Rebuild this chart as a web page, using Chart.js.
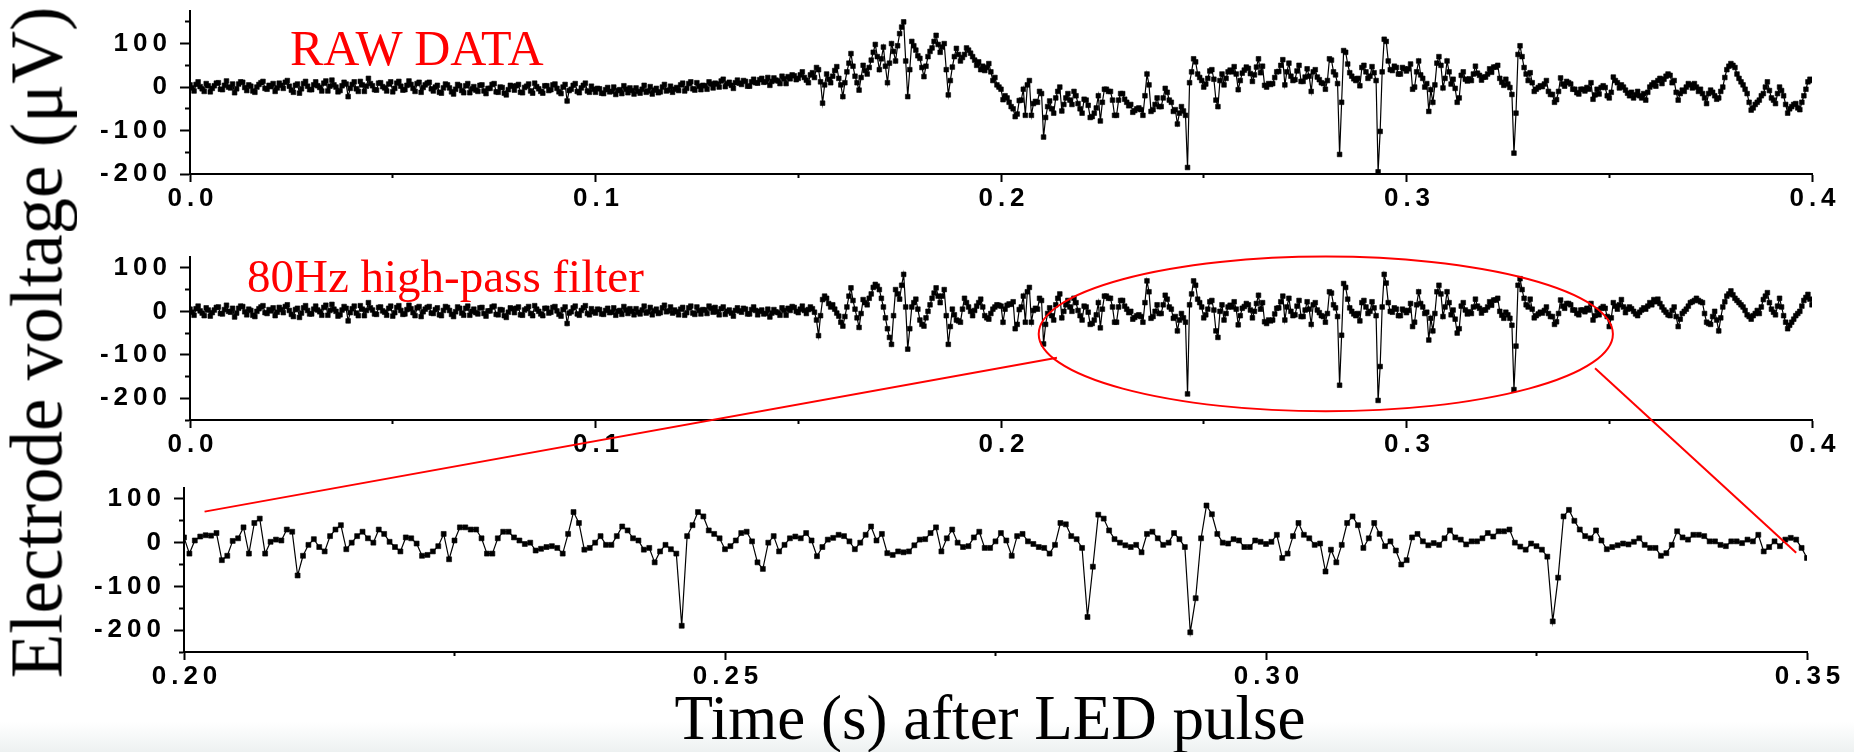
<!DOCTYPE html>
<html>
<head>
<meta charset="utf-8">
<script src="https://cdn.jsdelivr.net/npm/chart.js@4.4.1/dist/chart.umd.min.js"></script>
<style>
  html, body { margin: 0; padding: 0; background: #fff; }
  #page { position: relative; width: 1854px; height: 752px; overflow: hidden; background: #fff; }
  #page canvas { position: absolute; left: 0; }
  #fade { position: absolute; left: 0; top: 722px; width: 1854px; height: 30px;
          background: linear-gradient(to bottom, #ffffff, #edf1f1); }
  .note { position: absolute; font-family: "Liberation Serif", "Times New Roman", serif;
          color: #ff0000; white-space: nowrap; }
  .title { position: absolute; font-family: "Liberation Serif", "Times New Roman", serif;
           color: #000; white-space: nowrap; text-align: center; }
</style>
</head>
<body>
<div id="page">
  <div id="fade"></div>
  <canvas id="rawChart" width="1854" height="215" style="top:0px"></canvas>
  <canvas id="hpChart" width="1854" height="220" style="top:240px"></canvas>
  <canvas id="zoomChart" width="1854" height="230" style="top:470px"></canvas>
  <canvas id="overlay" width="1854" height="752" style="top:0px"></canvas>
  <div class="note" style="left:290px; top:23px; font-size:50px; line-height:50px">RAW DATA</div>
  <div class="note" style="left:247px; top:253px; font-size:47px; line-height:47px">80Hz high-pass filter</div>
  <div class="title" style="left:490px; top:687px; width:1000px; font-size:63px; line-height:63px">Time (s) after LED pulse</div>
  <div class="title" style="left:-363px; top:306px; width:800px; height:73px; font-size:73px; line-height:73px; transform:rotate(-90deg)">Electrode voltage (μV)</div>
</div>
<script>
// all traces are sampled every 0.5 ms (µV)
const DT = 0.0005;

// raw electrode trace, 0.000 s to 0.400 s
const RAW_T0 = 0;
const rawValues = [
  // 0.000 - 0.100 s
  5, -2, -9, 6, 12, 1, -4, -10, 8, 3, -11, -3, 3, 9, 10, -5, -6, 4, 14, 0,
  -2, 7, -13, -4, 7, 12, 11, -1, -8, 5, 2, -9, -12, 0, 6, 10, 13, -3, -5, 4,
  1, 8, -10, -2, 9, 4, -3, 11, 15, 2, -7, -12, 4, 7, -14, -4, 8, 13, 2, -6,
  -6, 5, 12, 3, -1, -9, 9, 14, -9, 2, 16, 5, 0, -11, -8, 3, 11, 7, -22, -3,
  6, 12, -4, -10, 13, 5, -10, 2, 20, 8, 3, -6, -7, 9, 10, 1, -2, -9, 7, 12,
  -11, -3, 9, 13, 2, -7, -6, 4, 14, 6, -3, -10, 8, 11, -12, -1, 5, 9, 11, -4,
  -9, 0, 4, -12, -14, -2, 7, 5, -2, -11, -16, -5, 6, 3, -8, -13, 3, 8, -13, -4,
  1, -7, -10, 4, 5, -9, -15, -3, -3, 6, 8, -11, -12, 0, -1, -14, -18, -6, 4, 2,
  -7, 3, 6, -12, -13, -1, 2, 7, -9, -14, 9, 1, -4, -10, -14, 3, 3, -8, -6, 5,
  7, -3, -11, -15, 0, 6, -32, -8, -5, 4, 8, -10, -13, -2, 4, 9, -9, -12, 2, -5,
  // 0.100 - 0.200 s
  -12, -3, -4, -14, -15, -6, -1, -11, -10, 0, -17, -8, -6, -15, 3, -5, -13, -2, -8, -16,
  -2, -10, -14, -5, 4, -12, -9, 1, -16, -7, -3, -13, -11, 0, 6, -9, -7, 2, -12, -5,
  -1, -8, 5, 9, -9, -3, 8, 12, -4, -7, 10, 2, -6, 4, 3, -5, 12, 7, -2, 9,
  7, 0, 14, 18, 1, 8, 11, 4, -3, 10, 16, 9, 6, 15, 13, 2, 2, 12, 18, 10,
  9, 17, 20, 11, 12, 22, 4, 13, 21, 16, 14, 8, 25, 19, 8, 24, 19, 28, 26, 17,
  20, 28, 35, 22, 16, 10, 28, 33, 22, 45, 40, 12, -37, 5, 30, 18, 10, 25, 38, 47,
  20, 5, -22, 10, 35, 55, 77, 48, 25, 10, -7, 22, 50, 38, 30, 45, 62, 80, 98, 70,
  40, 65, 92, 48, 10, 55, 100, 82, 60, 95, 123, 138, 150, 60, -22, 40, 105, 95, 85, 72,
  66, 45, 24, 48, 70, 82, 90, 105, 119, 98, 80, 92, 100, 40, -18, 15, 46, 70, 89, 75,
  60, 68, 75, 90, 85, 78, 70, 62, 50, 58, 40, 48, 38, 45, 54, 35, 15, 22, 5, 0,
  // 0.200 - 0.350 s
  -5, -29, -20, -25, -35, -45, -50, -68, -62, -31,
  -30, -5, -65, 5, 15, -65, -38, -33, -35, -10,
  -15, -115, -70, -45, -32, -50, -60, -25, -10, 0,
  -55, -40, -25, -15, -30, -40, -10, -20, -38, -50,
  -60, -28, -30, -42, -70, -68, -60, -48, -20, -78,
  -35, -5, -5, -10, -10, -30, -65, -65, -30, -15,
  -15, -28, -35, -43, -40, -58, -54, -50, -48, -52,
  -65, -20, 30, 5, -56, -52, -40, -25, -45, -45,
  -25, -3, -12, -30, -35, -56, -52, -85, -60, -45,
  -55, -65, -185, 10, 35, 65, 58, 30, 22, 15,
  0, 7, 20, 37, 40, 18, -30, -45, 15, 30,
  5, 20, 35, 39, 35, 47, 30, -6, 15, 32,
  39, 46, 43, 31, 13, 28, 46, 65, 33, 48,
  4, 0, 8, 6, 8, 22, 35, 36, 50, 63,
  5, 35, 55, 25, 15, 17, 37, 50, 13, 13,
  23, 42, 25, -10, 35, 40, 23, 17, 10, 8,
  -5, 15, 65, 62, 35, 28, 8, -155, -35, 84,
  80, 53, 33, 25, 19, 15, 20, 3, 45, 50,
  35, 20, 25, 47, 33, 15, -195, -102, 35, 110,
  105, 60, 40, 38, 48, 45, 30, 30, 45, 42,
  37, 42, 53, -5, 0, 35, 60, 28, 20, 0,
  8, -56, -6, -35, 5, 55, 70, 50, -2, 20,
  60, 35, 7, 18, -3, -35, -25, 27, 35, 18,
  14, 19, 15, 30, 48, 32, 27, 16, 23, 23,
  30, 42, 34, 46, 46, 50, 20, 11, 4, 18,
  7, -1, -17, -152, -60, 75, 95, 70, 45, 30,
  15, 33, 10, -10, -5, -1, 3, 1, 7, 15,
  -10, -17, -17, -35, -29, -10, 21, 7, 2, 13,
  10, 7, -5, -5, -13, -16, -5, -5, -9, -1,
  -5, 10, -28, -18, -5, -16, -1, 3, -1, -20,
  -25,
  // 0.3505 - 0.400 s
  -12, 23, 15, 10, -2, 5, 0, -7, -14, -20, -12, -25, -18, -10, -20, -25, -15, -30, -12, 0,
  5, 10, 2, 15, 20, 8, 18, 25, 30, 27, 10, 15, -12, -30, -15, -7, -10, 0, 8, 5,
  -2, 8, 0, -10, -5, -15, -25, -38, -15, -7, -12, -20, -28, -25, -10, 0, 22, 40, 48, 54,
  50, 45, 30, 20, 12, 5, -5, -15, -35, -53, -48, -40, -35, -30, -20, -15, 0, 12, -8, -25,
  -30, -38, -15, 0, -8, -20, -40, -60, -50, -45, -40, -38, -48, -52, -35, -20, -5, 12, 18, 15
];

// 80 Hz high-pass trace, 0.000 - 0.1995 s
const HP_EARLY_T0 = 0;
const hpEarlyValues = [
  5, -2, -9, 6, 12, 1, -4, -10, 8, 3, -11, -3, 3, 9, 10, -5, -6, 4, 14, 0,
  -2, 7, -13, -4, 7, 12, 11, -1, -8, 5, 2, -9, -12, 0, 6, 10, 13, -3, -5, 4,
  1, 8, -10, -2, 9, 4, -3, 11, 15, 2, -7, -12, 4, 7, -14, -4, 8, 13, 2, -6,
  -6, 5, 12, 3, -1, -9, 9, 14, -9, 2, 16, 5, 0, -11, -8, 3, 11, 7, -22, -3,
  6, 12, -4, -10, 13, 5, -10, 2, 20, 8, 3, -6, -7, 9, 10, 1, -2, -9, 7, 12,
  -11, -3, 9, 13, 2, -7, -6, 4, 14, 6, -3, -10, 8, 11, -12, -1, 5, 9, 11, -4,
  -5, 4, 8, -8, -10, 2, 11, 9, 2, -7, -12, -1, 10, 7, -4, -9, 7, 12, -9, 0,
  5, -3, -6, 8, 9, -5, -11, 1, 1, 10, 12, -7, -8, 4, 3, -10, -14, -2, 8, 6,
  -3, 7, 10, -8, -9, 3, 6, 11, -5, -10, 13, 5, 0, -6, -10, 7, 7, -4, -2, 9,
  11, 1, -7, -11, 4, 10, -28, -4, -1, 8, 12, -6, -9, 2, 8, 13, -5, -8, 6, -1,
  -4, 5, 4, -6, -7, 2, 7, -3, -2, 8, -9, 0, 2, -7, 11, 3, -5, 6, 0, -8,
  6, -2, -6, 3, 12, -4, -1, 9, -8, 1, 5, -5, -3, 8, 14, -1, 1, 10, -4, 3,
  -1, -8, 5, 9, -9, -3, 8, 12, -4, -7, 10, 2, -6, 4, 3, -5, 12, 7, -2, 9,
  -1, -8, 6, 10, -7, 0, 3, -4, -11, 2, 8, 1, -2, 7, 5, -6, -6, 4, 10, 2,
  -8, 0, 3, -6, -5, 5, -13, -4, 4, -1, -3, -9, 8, 2, -9, 7, 2, 11, 9, 0,
  -3, 5, 12, 2, -5, 4, 10, 6, -2, -20, -56, -10, 27, 35, 30, 18, 10, 15, 5, -4,
  -11, -25, -34, -12, 10, 35, 54, 25, 5, -15, -37, -5, 27, 20, 15, 30, 40, 55, 62, 58,
  50, 30, 10, -15, -40, -60, -76, -10, 50, 40, 28, 60, 85, 10, -87, -40, 10, 20, 28, 5,
  -20, -30, -34, -15, 0, 15, 30, 42, 54, 35, 20, 35, 50, -10, -76, -35, 5, -8, -20, -22,
  -25, 5, 30, 20, 10, 0, -10, 2, 12, 20, 28, 10, -10, -15, -18, -5, 5, 10, 15, 14
];

// high-pass trace inside the zoomed window, 0.200 - 0.350 s
const HP_ZOOM_T0 = 0.2;
const hpZoomValues = [
  12, -25, 5, 14, 17, 16, 22, -40, -30, 4,
  10, 35, -25, 45, 55, -25, 2, 7, 5, 30,
  25, -75, -30, -5, 8, -10, -20, 15, 30, 40,
  -15, 0, 15, 25, 10, 0, 30, 20, 2, -10,
  -20, 12, 10, -2, -30, -28, -20, -8, 20, -38,
  5, 35, 35, 30, 30, 10, -25, -25, 10, 25,
  25, 12, 5, -3, 0, -18, -14, -10, -8, -12,
  -25, 20, 70, 45, -16, -12, 0, 15, -5, -5,
  15, 37, 28, 10, 5, -16, -12, -45, -20, -5,
  -15, -25, -190, 15, 40, 70, 60, 28, 20, 10,
  -15, -8, 5, 22, 25, 3, -45, -60, 0, 15,
  -20, -5, 10, 14, 10, 22, 5, -31, -10, 7,
  11, 18, 15, 3, -15, 0, 18, 37, 5, 20,
  -24, -28, -20, -22, -20, -6, 7, 8, 22, 35,
  -20, 10, 30, 0, -10, -8, 12, 25, -12, -12,
  3, 22, 5, -30, 15, 20, 3, -3, -10, -12,
  -25, -5, 45, 42, 15, 8, -12, -170, -55, 64,
  55, 28, 8, 0, -6, -10, -5, -22, 20, 25,
  10, -5, 0, 22, 8, -10, -205, -127, 10, 85,
  65, 20, 0, -2, 8, 5, -10, -10, 5, 2,
  -3, 2, 18, -35, -25, 15, 45, 18, 10, -5,
  -2, -66, -16, -45, -5, 45, 60, 40, -12, 10,
  45, 20, -8, 3, -18, -50, -40, 12, 20, 3,
  -6, -1, -5, 10, 28, 12, 7, -4, 3, 3,
  10, 22, 14, 26, 26, 30, 0, -9, -16, -2,
  -8, -16, -32, -180, -80, 60, 75, 50, 30, 15,
  10, 28, 5, -15, -10, -6, -2, -4, 2, 10,
  -5, -12, -12, -30, -24, -5, 26, 12, 7, 18,
  18, 15, 3, 3, -5, -8, 3, 3, -1, 7,
  3, 18, -20, -10, 3, -8, 7, 11, 7, -12,
  -35
];

// high-pass trace after the window, 0.3505 - 0.400 s
const HP_LATE_T0 = 0.3505;
const hpLateValues = [
  -15, 20, 12, 5, 15, 27, 10, -3, 5, 10, 6, 0, -6, -10, -2, 3, 8, 5, 12, 20,
  15, 27, 22, 28, 18, 10, 3, -2, -8, -10, 2, 10, -12, -35, -18, -5, 0, 5, 12, 20,
  22, 25, 30, 25, 22, 20, -5, -25, -28, -30, -12, 0, -20, -45, -15, 10, 22, 35, 40, 47,
  38, 30, 25, 20, 15, 10, 2, -8, -12, -18, -10, -5, 2, -5, 10, 27, 35, 43, 20, 5,
  -2, -8, 12, 30, 10, -10, -25, -40, -32, -25, -18, -10, -5, 0, 12, 25, 32, 39, 28, 15
];

// axis ticks
const fullTimeTicks = [0, 0.1, 0.2, 0.3, 0.4];
const fullTimeLabels = ["0.0", "0.1", "0.2", "0.3", "0.4"];
const fullTimeMinor = [0.05, 0.15, 0.25, 0.35];
const zoomTimeTicks = [0.2, 0.25, 0.3, 0.35];
const zoomTimeLabels = ["0.20", "0.25", "0.30", "0.35"];
const zoomTimeMinor = [0.225, 0.275, 0.325];
const voltTicks = [-200, -100, 0, 100];
const voltMinor = [-250, -150, -50, 50, 150];

// zoom marker (ellipse on the filtered panel) and its two leader lines, in data units
const zoomEllipse = { t: 0.2801, v: -52, halfT: 0.0708, halfV: 178 };
const leaderLines = [
  { from: [0.2138, -107], to: [0.2019, 71] },
  { from: [0.3465, -131], to: [0.349, -23] }
];

function toPoints(t0, values) {
  return values.map((v, i) => ({ x: +(t0 + i * DT).toFixed(4), y: v }));
}

const tickFont = { family: '"Liberation Sans", Arial, sans-serif', size: 26, weight: "bold" };

function zeroPad(s) {
  s.paddingLeft = 0; s.paddingRight = 0; s.paddingTop = 0; s.paddingBottom = 0;
}

function fixTicks(values, lo, hi) {
  return (s) => {
    s.ticks = values.filter((v) => v >= lo - 1e-9 && v <= hi + 1e-9).map((v) => ({ value: v }));
  };
}

const letterSpacing = {
  id: "letterSpacing",
  beforeDraw(chart) { chart.ctx.letterSpacing = "5px"; }
};

function makeChart(id, o) {
  const axisLine = { color: "#000", width: 2 };
  return new Chart(document.getElementById(id), {
    type: "line",
    data: {
      datasets: [{
        data: o.points,
        borderColor: "#000",
        borderWidth: 1.2,
        pointStyle: "rect",
        pointRadius: o.markerSize,
        pointBackgroundColor: "#000",
        pointBorderColor: "#000",
        pointBorderWidth: 0.6,
        tension: 0
      }]
    },
    options: {
      responsive: false,
      animation: false,
      events: [],
      layout: { padding: { top: o.padTop, right: o.padRight, left: 0, bottom: 0 } },
      plugins: { legend: { display: false }, tooltip: { enabled: false } },
      scales: {
        x: {
          type: "linear", position: "bottom", weight: 1, bounds: "data",
          min: o.xMin, max: o.xMax,
          afterBuildTicks: fixTicks(o.xTicks, o.xMin, o.xMax),
          ticks: {
            autoSkip: false, maxRotation: 0,
            font: tickFont, color: "#000", padding: 1, labelOffset: 3,
            callback: (v) => o.xLabels[o.xTicks.findIndex((t) => Math.abs(t - v) < 1e-6)]
          },
          grid: { drawOnChartArea: false, tickLength: 8, tickWidth: 2, tickColor: "#000" },
          border: axisLine,
          afterFit: (s) => { s.height = o.xAxisH; zeroPad(s); }
        },
        x2: {
          type: "linear", position: "bottom", weight: 0, bounds: "data",
          min: o.xMin, max: o.xMax,
          afterBuildTicks: fixTicks(o.xMinor, o.xMin, o.xMax),
          ticks: { display: false },
          grid: { drawOnChartArea: false, tickLength: 4, tickWidth: 2, tickColor: "#000" },
          border: axisLine,
          afterFit: (s) => { s.height = 0; zeroPad(s); }
        },
        y: {
          type: "linear", position: "left", weight: 1, bounds: "data",
          min: o.yMin, max: o.yMax,
          afterBuildTicks: fixTicks(voltTicks, o.yMin, o.yMax),
          ticks: {
            font: tickFont, color: "#000", padding: 8,
            callback: (v) => String(v)
          },
          grid: { drawOnChartArea: false, tickLength: 10, tickWidth: 2, tickColor: "#000" },
          border: axisLine,
          afterFit: (s) => { s.width = o.yAxisW; zeroPad(s); }
        },
        y2: {
          type: "linear", position: "left", weight: 0, bounds: "data",
          min: o.yMin, max: o.yMax,
          afterBuildTicks: fixTicks(voltMinor, o.yMin, o.yMax),
          ticks: { display: false },
          grid: { drawOnChartArea: false, tickLength: 5, tickWidth: 2, tickColor: "#000" },
          border: axisLine,
          afterFit: (s) => { s.width = 0; zeroPad(s); }
        }
      }
    },
    plugins: [letterSpacing]
  });
}

const rawChart = makeChart("rawChart", {
  points: toPoints(RAW_T0, rawValues),
  xMin: 0, xMax: 0.4, xTicks: fullTimeTicks, xLabels: fullTimeLabels, xMinor: fullTimeMinor,
  yMin: -200, yMax: 175, markerSize: 3.3,
  padTop: 11, padRight: 42, yAxisW: 190, xAxisH: 41
});

const hpChart = makeChart("hpChart", {
  points: toPoints(HP_EARLY_T0, hpEarlyValues)
    .concat(toPoints(HP_ZOOM_T0, hpZoomValues))
    .concat(toPoints(HP_LATE_T0, hpLateValues)),
  xMin: 0, xMax: 0.4, xTicks: fullTimeTicks, xLabels: fullTimeLabels, xMinor: fullTimeMinor,
  yMin: -250, yMax: 125, markerSize: 3.3,
  padTop: 17, padRight: 42, yAxisW: 190, xAxisH: 40
});

const zoomChart = makeChart("zoomChart", {
  points: toPoints(HP_ZOOM_T0, hpZoomValues),
  xMin: 0.2, xMax: 0.35, xTicks: zoomTimeTicks, xLabels: zoomTimeLabels, xMinor: zoomTimeMinor,
  yMin: -250, yMax: 125, markerSize: 3.5,
  padTop: 18, padRight: 47, yAxisW: 184, xAxisH: 48
});

// red zoom annotation drawn over all panels
function pagePoint(chart, t, v) {
  return {
    x: chart.canvas.offsetLeft + chart.scales.x.getPixelForValue(t),
    y: chart.canvas.offsetTop + chart.scales.y.getPixelForValue(v)
  };
}

function drawZoomMarker() {
  const ctx = document.getElementById("overlay").getContext("2d");
  ctx.strokeStyle = "#ff0000";
  ctx.lineWidth = 2;

  const c = pagePoint(hpChart, zoomEllipse.t, zoomEllipse.v);
  const edge = pagePoint(hpChart, zoomEllipse.t + zoomEllipse.halfT, zoomEllipse.v + zoomEllipse.halfV);
  ctx.beginPath();
  ctx.ellipse(c.x, c.y, edge.x - c.x, c.y - edge.y, 0, 0, Math.PI * 2);
  ctx.stroke();

  leaderLines.forEach((l) => {
    const a = pagePoint(hpChart, l.from[0], l.from[1]);
    const b = pagePoint(zoomChart, l.to[0], l.to[1]);
    ctx.beginPath();
    ctx.moveTo(a.x, a.y);
    ctx.lineTo(b.x, b.y);
    ctx.stroke();
  });
}

drawZoomMarker();
</script>
</body>
</html>
